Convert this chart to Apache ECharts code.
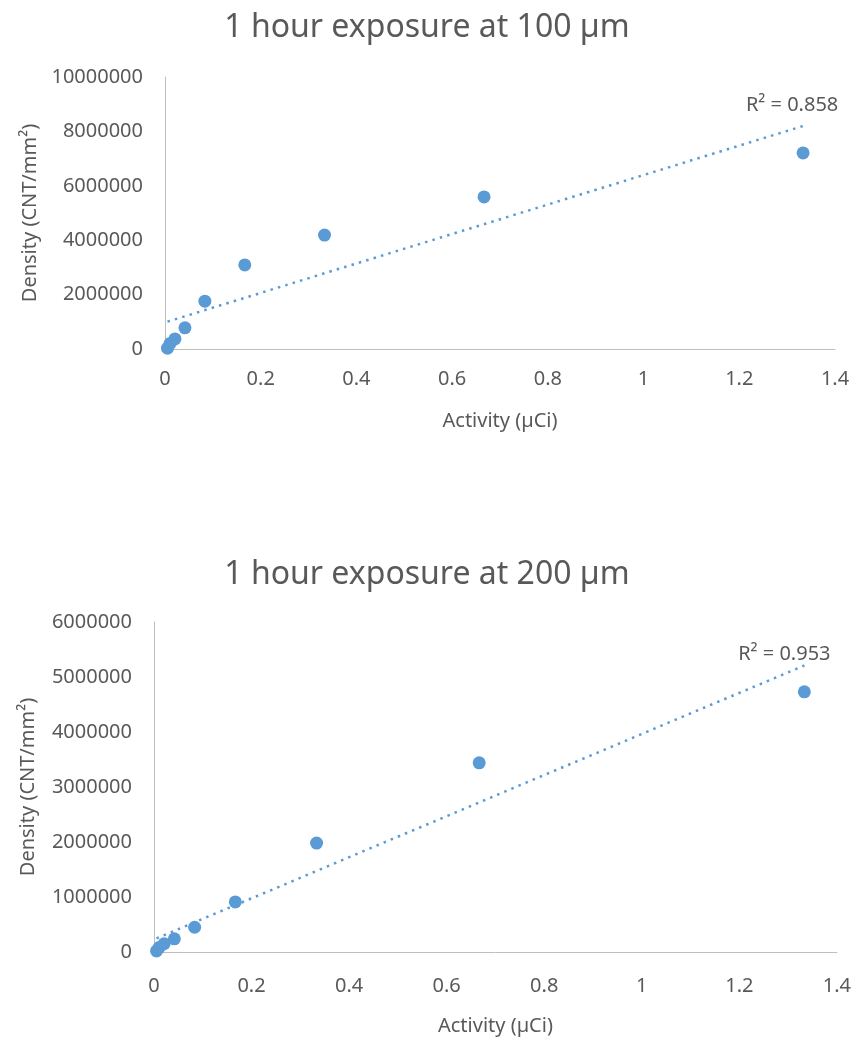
<!DOCTYPE html>
<html>
<head>
<meta charset="utf-8">
<script src="https://cdn.jsdelivr.net/npm/echarts@6/dist/echarts.min.js"></script>
<style>
html,body{margin:0;padding:0;background:#fff;}
#c{width:854px;height:1043px;}
</style>
</head>
<body>
<div id="c"></div>
<script>
// ---- data ----
const titles = ['1 hour exposure at 100 µm', '1 hour exposure at 200 µm'];
const xName = 'Activity (µCi)';
const yName = 'Density (CNT/mm²)';
const activity = [0.0052, 0.0104, 0.0208, 0.0417, 0.0833, 0.1667, 0.3333, 0.6667, 1.3333];
const density100 = [30000, 200000, 370000, 780000, 1760000, 3090000, 4190000, 5590000, 7210000];
const density200 = [20000, 80000, 150000, 240000, 450000, 910000, 1980000, 3440000, 4730000];
const r2Labels = ['R² = 0.858', 'R² = 0.953'];
const xTicks = [0, 1.4, 0.2];            // min, max, interval
const yTicks100 = [0, 10000000, 2000000];
const yTicks200 = [0, 6000000, 1000000];

const BLUE = '#5B9BD5';
const TXT = '#595959';
const FONT = 'Noto Sans';

function fit(xs, ys) {
  const n = xs.length;
  const mx = xs.reduce((a, b) => a + b, 0) / n;
  const my = ys.reduce((a, b) => a + b, 0) / n;
  let sxy = 0, sxx = 0;
  for (let i = 0; i < n; i++) { sxy += (xs[i] - mx) * (ys[i] - my); sxx += (xs[i] - mx) ** 2; }
  const k = sxy / sxx, b = my - k * mx;
  const x0 = Math.min(...xs), x1 = Math.max(...xs);
  return [[x0, k * x0 + b], [x1, k * x1 + b]];
}
const pts = ys => activity.map((x, i) => [x, ys[i]]);
const t100 = fit(activity, density100);
const t200 = fit(activity, density200);

const axisLine = { show: true, lineStyle: { color: '#bfbfbf', width: 1 } };
const labelStyle = { color: TXT, fontFamily: FONT, fontSize: 20 };

function xAxis(gi, margin, gap) {
  return {
    type: 'value', gridIndex: gi, min: xTicks[0], max: xTicks[1], interval: xTicks[2],
    axisLine, axisTick: { show: false }, splitLine: { show: false },
    axisLabel: Object.assign({ margin }, labelStyle),
    name: xName, nameLocation: 'middle', nameGap: gap,
    nameTextStyle: { color: TXT, fontFamily: FONT, fontSize: 20 }
  };
}
function yAxis(gi, t, gap) {
  return {
    type: 'value', gridIndex: gi, min: t[0], max: t[1], interval: t[2],
    axisLine, axisTick: { show: false }, splitLine: { show: false },
    axisLabel: Object.assign({ margin: 22, formatter: v => String(v) }, labelStyle),
    name: yName, nameLocation: 'middle', nameGap: gap, nameRotate: 90,
    nameTextStyle: { color: TXT, fontFamily: FONT, fontSize: 20 }
  };
}
function trend(gi, line, label, off) {
  return {
    type: 'line', xAxisIndex: gi, yAxisIndex: gi, data: line, showSymbol: false,
    lineStyle: { color: BLUE, width: 2.5, type: [2.5, 5.2] }, silent: true,
    markPoint: {
      symbol: 'circle', symbolSize: 0, silent: true,
      data: [{ coord: line[1], label: { show: true, formatter: label, position: 'top', offset: off,
        color: TXT, fontFamily: FONT, fontSize: 20 } }]
    }
  };
}

const chart = echarts.init(document.getElementById('c'), null, { renderer: 'canvas' });
chart.setOption({
  animation: false,
  backgroundColor: '#fff',
  title: [
    { text: titles[0], left: 'center', top: 7, textStyle: { color: TXT, fontFamily: FONT, fontSize: 32, fontWeight: 'normal' } },
    { text: titles[1], left: 'center', top: 554, textStyle: { color: TXT, fontFamily: FONT, fontSize: 32, fontWeight: 'normal' } }
  ],
  grid: [
    { left: 165, right: 19, top: 77, height: 272 },
    { left: 154, right: 17, top: 622, height: 330 }
  ],
  xAxis: [xAxis(0, 20, 62), xAxis(1, 24, 64)],
  yAxis: [yAxis(0, yTicks100, 121), yAxis(1, yTicks200, 116)],
  series: [
    trend(0, t100, r2Labels[0], [-11, -6]),
    trend(1, t200, r2Labels[1], [-20, 4]),
    { type: 'scatter', xAxisIndex: 0, yAxisIndex: 0, data: pts(density100), symbolSize: 13, itemStyle: { color: BLUE, opacity: 1 } },
    { type: 'scatter', xAxisIndex: 1, yAxisIndex: 1, data: pts(density200), symbolSize: 13, itemStyle: { color: BLUE, opacity: 1 } }
  ]
});
</script>
</body>
</html>
